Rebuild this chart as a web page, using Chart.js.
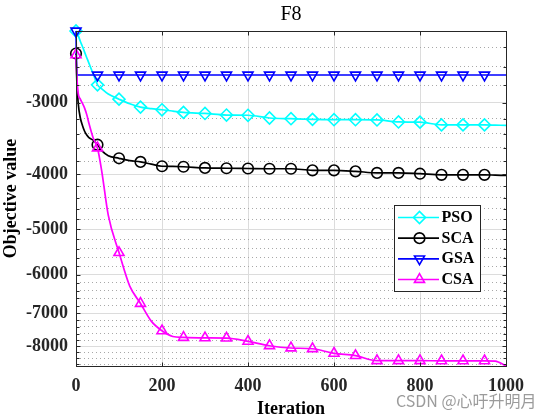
<!DOCTYPE html>
<html>
<head>
<meta charset="utf-8">
<script src="https://cdn.jsdelivr.net/npm/chart.js@4.4.1/dist/chart.umd.min.js"></script>
<style>
  html, body { margin: 0; padding: 0; background: #ffffff; }
  #wrap { position: relative; width: 560px; height: 420px; }
  #wm { position: absolute; left: 396px; top: 390px; font: 16px "Noto Sans CJK SC", "Noto Sans", sans-serif;
        color: rgba(130,130,130,0.8); white-space: nowrap; line-height: 20px; }
</style>
</head>
<body>
<div id="wrap">
  <canvas id="c" width="560" height="420"></canvas>
  <div id="wm">CSDN @心吁升明月</div>
</div>
<script>
// ---------------- data ----------------
const iterations = [0, 2, 5, 10, 15, 20, 25, 30, 40, 50, 60, 75, 100, 125, 150, 175, 200, 225, 250,
  300, 350, 400, 450, 500, 550, 600, 650, 700, 750, 800, 850, 900, 950, 975, 1000];

const psoValues = [-2250, -2265, -2290, -2345, -2395, -2450, -2505, -2560, -2675, -2794, -2840, -2900, -2960,
  -3015, -3056, -3075, -3089, -3105, -3122, -3135, -3155, -3158, -3193, -3202, -3210, -3215, -3215,
  -3218, -3244, -3247, -3283, -3283, -3283, -3286, -3289];

const scaValues = [-2463, -2760, -3003, -3190, -3290, -3368, -3420, -3455, -3490, -3555, -3640, -3715, -3755,
  -3790, -3810, -3845, -3877, -3880, -3885, -3903, -3908, -3912, -3916, -3916, -3941, -3941, -3957,
  -3982, -3982, -3995, -4013, -4013, -4013, -4018, -4023];

const gsaValues = [-2250, -2686, -2686, -2686, -2686, -2686, -2686, -2686, -2686, -2686, -2686, -2686, -2686,
  -2686, -2686, -2686, -2686, -2686, -2686, -2686, -2686, -2686, -2686, -2686, -2686, -2686, -2686,
  -2686, -2686, -2686, -2686, -2686, -2686, -2686, -2686];

const csaValues = [-2477, -2700, -2890, -2960, -3010, -3068, -3150, -3260, -3460, -3602, -3960, -4720, -5487,
  -6280, -6733, -7230, -7516, -7690, -7720, -7735, -7740, -7841, -7983, -8055, -8079, -8229, -8307,
  -8477, -8477, -8477, -8480, -8480, -8480, -8490, -8660];

const seriesNames = ['PSO', 'SCA', 'GSA', 'CSA'];
const markerIterations = [0, 50, 100, 150, 200, 250, 300, 350, 400, 450, 500, 550, 600, 650, 700, 750, 800, 850, 900, 950];

const xTickValues = [0, 200, 400, 600, 800, 1000];
const yTickValues = [-3000, -4000, -5000, -6000, -7000, -8000];
const yMinorTickValues = [-2400, -2600, -2800, -3200, -3400, -3600, -3800, -4200, -4400, -4600, -4800,
  -5200, -5400, -5600, -5800, -6200, -6400, -6600, -6800, -7200, -7400, -7600, -7800, -8200, -8400, -8600];
const xRange = [0, 1000];
const yRange = [-8660, -2250];

const chartTitle = 'F8';
const xAxisTitle = 'Iteration';
const yAxisTitle = 'Objective value';

// ---------------- styles ----------------
const SERIF = '"Liberation Serif", "Times New Roman", serif';
const seriesStyles = [
  { color: '#00FFFF', marker: 'rectRot', radius: 6, rotation: 0, order: 3 },
  { color: '#000000', marker: 'circle', radius: 5.3, rotation: 0, order: 2 },
  { color: '#0000FF', marker: 'triangle', radius: 5.8, rotation: 180, order: 1 },
  { color: '#FF00FF', marker: 'triangle', radius: 5.8, rotation: 0, order: 0 }
];
const seriesValues = [psoValues, scaValues, gsaValues, csaValues];

// The y axis is a log axis on |value| (reversed), labels show the negative value.
const datasets = seriesNames.map((name, s) => {
  const st = seriesStyles[s];
  return {
    label: name,
    data: iterations.map((it, i) => ({ x: it, y: -seriesValues[s][i] })),
    borderColor: st.color,
    backgroundColor: st.color,
    borderWidth: 1.7,
    pointStyle: st.marker,
    pointRotation: st.rotation,
    pointRadius: (ctx) => (ctx.raw && markerIterations.includes(ctx.raw.x)) ? st.radius : 0,
    pointHoverRadius: 0,
    pointBorderColor: st.color,
    pointBackgroundColor: 'rgba(0,0,0,0)',
    pointBorderWidth: 1.6,
    cubicInterpolationMode: 'monotone',
    clip: false,
    order: st.order
  };
});

function drawMarker(ctx, style, x, y) {
  const r = style.radius;
  ctx.beginPath();
  if (style.marker === 'circle') {
    ctx.arc(x, y, r, 0, Math.PI * 2);
  } else if (style.marker === 'rectRot') {
    ctx.moveTo(x - r, y); ctx.lineTo(x, y - r); ctx.lineTo(x + r, y); ctx.lineTo(x, y + r); ctx.closePath();
  } else {
    let rad = style.rotation * Math.PI / 180;
    for (let k = 0; k < 3; k++) {
      const px = x + Math.sin(rad) * r, py = y - Math.cos(rad) * r;
      if (k === 0) ctx.moveTo(px, py); else ctx.lineTo(px, py);
      rad += 2 * Math.PI / 3;
    }
    ctx.closePath();
  }
  ctx.stroke();
}

const framePlugin = {
  id: 'frameBox',
  afterDatasetsDraw(chart) {
    const { ctx, chartArea: a, scales } = chart;
    ctx.save();
    ctx.strokeStyle = '#262626';
    ctx.lineWidth = 1;
    const L = Math.round(a.left) + 0.5, T = Math.round(a.top) + 0.5;
    const R = Math.round(a.right) + 0.5, B = Math.round(a.bottom) + 0.5;
    ctx.strokeRect(L, T, R - L, B - T);
    ctx.beginPath();
    scales.x.ticks.forEach(t => {
      const px = Math.round(scales.x.getPixelForValue(t.value)) + 0.5;
      ctx.moveTo(px, B); ctx.lineTo(px, B - 4);
      ctx.moveTo(px, T); ctx.lineTo(px, T + 4);
    });
    [['y', 4], ['y2', 3]].forEach(([id, len]) => {
      scales[id].ticks.forEach(t => {
        const py = Math.round(scales[id].getPixelForValue(t.value)) + 0.5;
        ctx.moveTo(L, py); ctx.lineTo(L + len, py);
        ctx.moveTo(R, py); ctx.lineTo(R - len, py);
      });
    });
    ctx.stroke();
    ctx.restore();
  }
};

const legendPlugin = {
  id: 'boxLegend',
  afterDatasetsDraw(chart) {
    const { ctx, chartArea: a } = chart;
    const w = 86, h = 86;
    const left = Math.round(a.right - 112.5), top = Math.round(a.top + 174);
    ctx.save();
    ctx.fillStyle = '#ffffff';
    ctx.fillRect(left, top, w, h);
    ctx.strokeStyle = '#262626';
    ctx.lineWidth = 1;
    ctx.strokeRect(left + 0.5, top + 0.5, w, h);
    chart.data.datasets.forEach((ds, i) => {
      const st = seriesStyles[i];
      const y = top + 12.5 + i * 20.67;
      ctx.strokeStyle = st.color;
      ctx.lineWidth = 1.7;
      ctx.beginPath(); ctx.moveTo(left + 4, y); ctx.lineTo(left + 45, y); ctx.stroke();
      ctx.lineWidth = 1.6;
      drawMarker(ctx, st, left + 25.5, y);
      ctx.fillStyle = '#000000';
      ctx.font = 'bold 16px ' + SERIF;
      ctx.textAlign = 'left';
      ctx.textBaseline = 'middle';
      ctx.fillText(ds.label, left + 47.5, y + 0.5);
    });
    ctx.restore();
  }
};

const tickFont = { family: SERIF, size: 18, weight: 'bold' };

new Chart(document.getElementById('c'), {
  type: 'line',
  data: { datasets },
  plugins: [framePlugin, legendPlugin],
  options: {
    responsive: false,
    animation: false,
    devicePixelRatio: 1,
    events: [],
    layout: { padding: { left: 0, right: 54, top: 0, bottom: 0 } },
    plugins: {
      legend: { display: false },
      tooltip: { enabled: false },
      title: {
        display: true, text: chartTitle, fullSize: false, color: '#000000',
        font: { family: SERIF, size: 20, weight: 'normal', lineHeight: 1.2 },
        padding: { top: 3, bottom: 4 }
      }
    },
    scales: {
      x: {
        type: 'linear', min: xRange[0], max: xRange[1], bounds: 'data',
        afterBuildTicks: (s) => { s.ticks = xTickValues.map(v => ({ value: v })); },
        afterFit: (s) => { s.height = 54; },
        ticks: { callback: (v) => String(v), font: tickFont, color: '#262626', padding: 10, maxRotation: 0, autoSkip: false },
        grid: { color: '#dcdcdc', lineWidth: 1, drawTicks: false },
        border: { display: false },
        title: { display: true, text: xAxisTitle, color: '#000000', font: { family: SERIF, size: 18, weight: 'bold' }, padding: { top: 0, bottom: 0 } }
      },
      y: {
        type: 'logarithmic', reverse: true, min: -yRange[1], max: -yRange[0], bounds: 'data',
        afterBuildTicks: (s) => { s.ticks = yTickValues.map(v => ({ value: -v })); },
        afterFit: (s) => { s.width = 76; },
        ticks: { callback: (v) => String(-v), font: tickFont, color: '#262626', padding: 8, autoSkip: false },
        grid: { color: '#dcdcdc', lineWidth: 1, drawTicks: false },
        border: { display: false },
        title: { display: true, text: yAxisTitle, color: '#000000', font: { family: SERIF, size: 18, weight: 'bold' }, padding: { top: 1, bottom: 0 } }
      },
      y2: {
        type: 'logarithmic', position: 'left', reverse: true, min: -yRange[1], max: -yRange[0], bounds: 'data',
        afterBuildTicks: (s) => { s.ticks = yMinorTickValues.map(v => ({ value: -v })); },
        afterFit: (s) => { s.width = 0; },
        ticks: { display: false, callback: () => ' ' },
        grid: { color: '#a8a8a8', lineWidth: 1, drawTicks: false },
        border: { display: false, dash: [1, 3] }
      }
    }
  }
});
</script>
</body>
</html>
